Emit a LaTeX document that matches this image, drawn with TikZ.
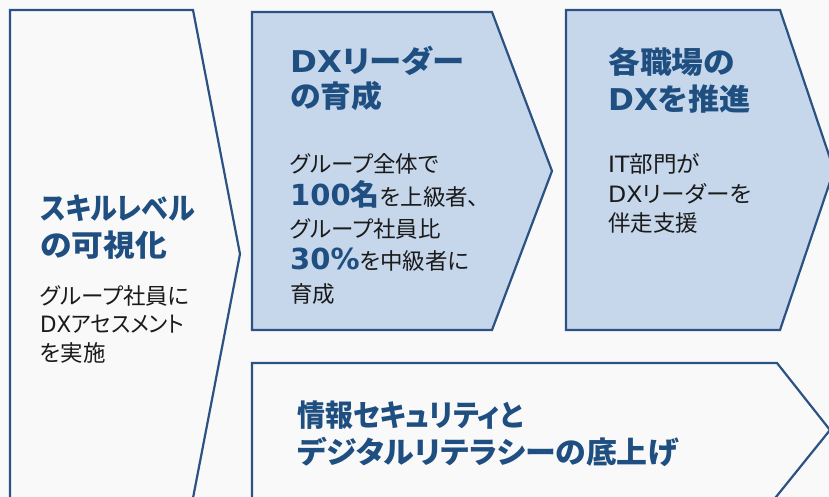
\documentclass[tikz,border=0pt]{standalone}
\usepackage{graphicx}
\usepackage{fontspec}
\setmainfont{Noto Sans CJK JP}[RawFeature=+palt]
\newfontfamily\lat{DejaVu Sans}
\definecolor{bg}{HTML}{F9F9F9}
\definecolor{edge}{HTML}{2B5283}
\definecolor{boxblue}{HTML}{C6D7EB}
\definecolor{titleblue}{HTML}{1F4E80}
\definecolor{bodytext}{HTML}{1A1A1A}
\newcommand\Lt[1]{{\lat #1}}
\newcommand\hsc[2]{\scalebox{#1}[1]{#2}}
\newcommand\bignum[1]{{\color{titleblue}\fontsize{29}{30}\selectfont\bfseries #1}}
\tikzset{
  shapeline/.style={draw=edge, line width=2.2pt, line join=miter},
  ttl/.style={anchor=base west, inner sep=0pt, text=titleblue, font=\fontsize{30}{32}\selectfont\bfseries},
  bdy/.style={anchor=base west, inner sep=0pt, text=bodytext, font=\fontsize{22.5}{24}\selectfont},
}
\begin{document}
\begin{tikzpicture}[x=1pt,y=-1pt]
\useasboundingbox (0,0) rectangle (829,497);
\fill[bg] (0,0) rectangle (829,497);
\begin{scope}
\clip (0,0) rectangle (829,497);
% left chevron
\path[shapeline, fill=bg] (10,510) -- (10,10) -- (193,10) -- (240,254) -- (190.7,510);
% middle blue chevron
\path[shapeline, fill=boxblue] (252,12) -- (492,12) -- (552,171) -- (492,330) -- (252,330) -- cycle;
% right blue chevron
\path[shapeline, fill=boxblue] (566,10) -- (780,10) -- (834,170) -- (780,330) -- (566,330) -- cycle;
% bottom chevron
\path[shapeline, fill=bg] (252,510) -- (252,363) -- (777,363) -- (830,430) -- (765.5,510);
\end{scope}
% left texts
\node[ttl] (lt1) at (40,219) {\hsc{0.9}{スキルレベル}};
\node[ttl] (lt2) at (40,256) {\hsc{1.06}{の可視化}};
\node[bdy] (lb1) at (40,304) {グループ社員に};
\node[bdy] (lb2) at (40,332) {\hsc{0.95}{\Lt{DX}アセスメント}};
\node[bdy] (lb3) at (40,361) {を実施};
% middle texts
\node[ttl] (mt1) at (290,73) {\hsc{1.08}{\Lt{DX}リーダー}};
\node[ttl] (mt2) at (290,108) {\hsc{1.03}{の育成}};
\node[bdy] (mb1) at (290,172) {グループ全体で};
\node[bdy] (mb2) at (290,205) {\bignum{\Lt{100}名}を上級者、};
\node[bdy] (mb3) at (290,237) {グループ社員比};
\node[bdy] (mb4) at (290,269) {\bignum{\Lt{30\%}}を中級者に};
\node[bdy] (mb5) at (290,302) {育成};
% right texts
\node[ttl] (rt1) at (608,74) {\hsc{1.06}{各職場の}};
\node[ttl] (rt2) at (608,111) {\hsc{1.04}{\Lt{DX}を推進}};
\node[bdy] (rb1) at (608,172) {\hsc{1.05}{\Lt{IT}部門が}};
\node[bdy] (rb2) at (608,202) {\hsc{1.05}{\Lt{DX}リーダーを}};
\node[bdy] (rb3) at (608,231) {伴走支援};
% bottom texts
\node[ttl] (bt1) at (297,426) {\hsc{0.93}{情報セキュリティと}};
\node[ttl] (bt2) at (297,463) {\hsc{1.03}{デジタルリテラシーの底上げ}};
\end{tikzpicture}
\end{document}
